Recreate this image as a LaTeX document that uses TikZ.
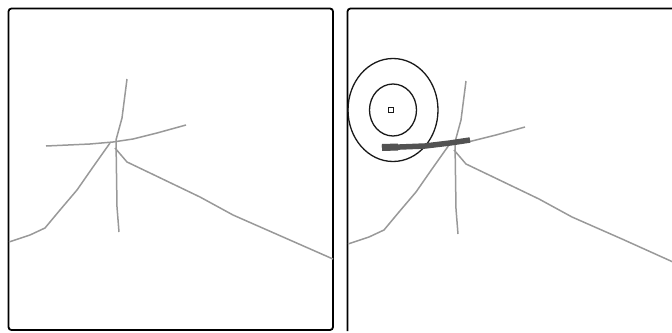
\documentclass[tikz,border=0pt]{standalone}
\begin{document}
\begin{tikzpicture}[x=1pt,y=-1pt,
  frame/.style={draw=black,line width=1.8pt,rounded corners=3pt},
  crack/.style={draw=black!40,line width=1.5pt,line join=round},
  ring/.style={draw=black!90,line width=1.3pt},
  bar/.style={draw=black!68,line width=5.5pt}]
\useasboundingbox (0,0) rectangle (672,332);
% left panel
\draw[frame] (8.5,8.5) rectangle (333,330);
\begin{scope}
\draw[crack] (127,79) -- (122,118) -- (116,140) -- (117,207) -- (119,232);
\draw[crack] (46,146) -- (90,144) -- (113,142) -- (133,139) -- (157,133) -- (186,125);
\draw[crack] (9,242) -- (30,235) -- (45,228) -- (60,210) -- (77,190) -- (93,167) -- (110,143);
\draw[crack] (115,148) -- (127,162) -- (150,173) -- (200,197) -- (233,215) -- (283,237) -- (333,259);
\end{scope}
% right panel
\draw[frame] (347.5,331) -- (347.5,8.5) -- (680,8.5);
\begin{scope}[shift={(339,2)}]
\draw[crack] (127,79) -- (122,118) -- (116,140) -- (117,207) -- (119,232);
\draw[crack] (113,142) -- (133,139) -- (157,133) -- (186,125);
\draw[crack] (9,242) -- (30,235) -- (45,228) -- (60,210) -- (77,190) -- (93,167) -- (110,143);
\draw[crack] (115,148) -- (127,162) -- (150,173) -- (200,197) -- (233,215) -- (283,237) -- (334,260);
\end{scope}
\draw[ring] (393,110) ellipse [x radius=45, y radius=51.5];
\draw[ring] (393,110) ellipse [x radius=23.5, y radius=26];
\draw[ring,line width=0.9pt] (388.5,107.5) rectangle (393,112);
\draw[bar] (382,148) -- (400,147) -- (425,146) -- (450,143) -- (470,140);
\draw[draw=black!68,line width=7pt] (382,147.5) -- (398,147);
\end{tikzpicture}
\end{document}
